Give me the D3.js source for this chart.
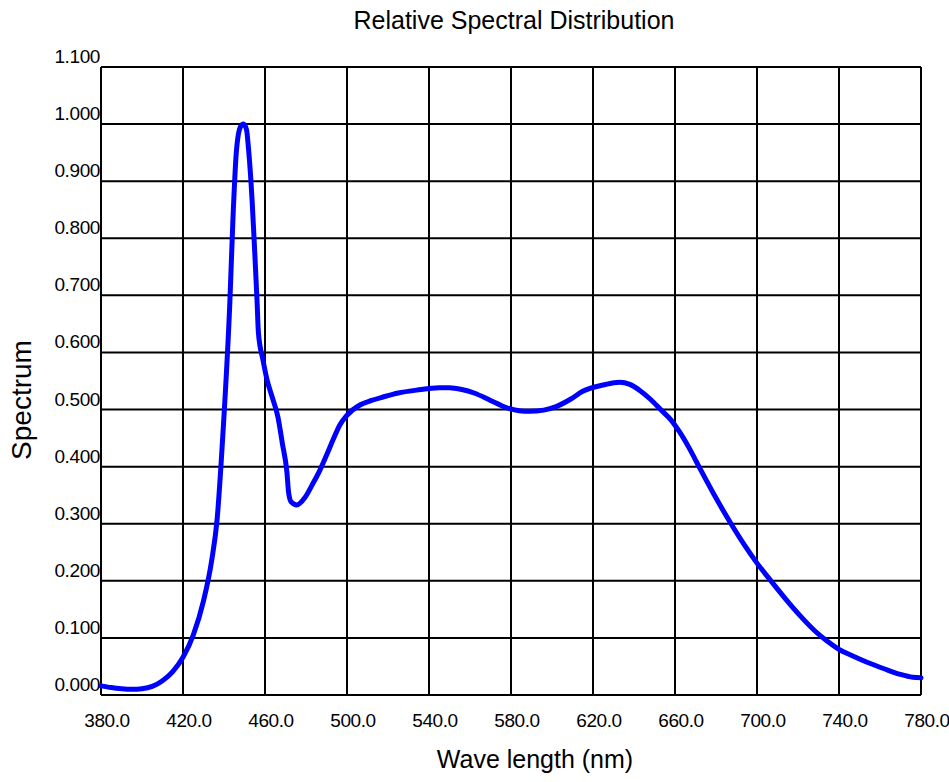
<!DOCTYPE html>
<html>
<head>
<meta charset="utf-8">
<script src="https://cdn.jsdelivr.net/npm/d3@7"></script>
<style>
	body { margin: 0; background: #fff; }
	text { font-family: "Liberation Sans", Arial, sans-serif; fill: #000; }
</style>
</head>
<body>
<div id="chart"></div>
<script>
(function(){

var width = 949,
	height = 782,
	margin = {left: 101, right: 28, top: 67, bottom: 87};

// wavelength (nm) and relative spectrum
var wavelength = [380, 385, 390, 395, 400, 405, 410, 415, 420, 425, 430, 434, 436.6, 439.5, 442.9, 444.4, 446, 448, 449.5, 451, 452, 453.7, 455, 456.1, 456.8, 459, 461, 463.5, 466.3, 468.5, 470.7, 471.5, 472.8, 475.5, 479.5, 483, 486.8, 490, 493.2, 496.5, 500, 506.3, 512, 517.6, 525, 534, 545, 550, 556, 562, 570, 578, 584, 589, 596, 602, 609, 615, 625, 633, 638, 643, 648, 653, 658, 662, 667, 672, 680, 688, 694, 700, 707, 714, 721, 728, 734, 740, 747, 754, 762, 770, 776, 780];
var spectrum = [0.016, 0.013, 0.011, 0.010, 0.011, 0.015, 0.025, 0.041, 0.066, 0.105, 0.165, 0.236, 0.306, 0.459, 0.692, 0.837, 0.950, 0.995, 1.000, 0.990, 0.955, 0.867, 0.775, 0.692, 0.634, 0.587, 0.552, 0.522, 0.487, 0.440, 0.390, 0.355, 0.338, 0.333, 0.346, 0.368, 0.394, 0.420, 0.447, 0.473, 0.490, 0.508, 0.516, 0.522, 0.529, 0.534, 0.538, 0.538, 0.535, 0.529, 0.516, 0.503, 0.498, 0.497, 0.499, 0.505, 0.518, 0.532, 0.543, 0.548, 0.544, 0.533, 0.518, 0.500, 0.482, 0.462, 0.432, 0.398, 0.345, 0.296, 0.262, 0.231, 0.199, 0.168, 0.139, 0.113, 0.095, 0.080, 0.068, 0.057, 0.046, 0.036, 0.031, 0.030];

var xticks = [380, 420, 460, 500, 540, 580, 620, 660, 700, 740, 780];
var yticks = [0, 0.1, 0.2, 0.3, 0.4, 0.5, 0.6, 0.7, 0.8, 0.9, 1.0, 1.1];

var title = "Relative Spectral Distribution",
	xlabel = "Wave length (nm)",
	ylabel = "Spectrum";

var X = d3.scaleLinear().domain([380, 780]).range([margin.left, width - margin.right]);
var Y = d3.scaleLinear().domain([0, 1.1]).range([height - margin.bottom, margin.top]);

var svg = d3.select("#chart").append("svg")
	.attr("width", width)
	.attr("height", height);

// grid
svg.selectAll(".vgrid").data(xticks).enter().append("line")
	.attr("class", "vgrid")
	.attr("x1", function(d){ return X(d); })
	.attr("x2", function(d){ return X(d); })
	.attr("y1", Y(1.1))
	.attr("y2", Y(0))
	.style("stroke", "#000")
	.style("stroke-width", 2);

svg.selectAll(".hgrid").data(yticks).enter().append("line")
	.attr("class", "hgrid")
	.attr("x1", X(380))
	.attr("x2", X(780))
	.attr("y1", function(d){ return Y(d); })
	.attr("y2", function(d){ return Y(d); })
	.style("stroke", "#000")
	.style("stroke-width", 2);

// tick labels
svg.selectAll(".ylab").data(yticks).enter().append("text")
	.attr("class", "ylab")
	.attr("x", X(380) - 1)
	.attr("y", function(d){ return Y(d) - 4; })
	.attr("text-anchor", "end")
	.style("font-size", "19px")
	.style("letter-spacing", "-0.4px")
	.text(function(d){ return d3.format(".3f")(d); });

svg.selectAll(".xlab").data(xticks).enter().append("text")
	.attr("class", "xlab")
	.attr("x", function(d){ return X(d) + 6; })
	.attr("y", Y(0) + 32)
	.attr("text-anchor", "middle")
	.style("font-size", "19px")
	.style("letter-spacing", "-0.4px")
	.text(function(d){ return d3.format(".1f")(d); });

// the curve
var line = d3.line()
	.x(function(d){ return X(d[0]); })
	.y(function(d){ return Y(d[1]); })
	.curve(d3.curveMonotoneX);

svg.append("path")
	.datum(d3.zip(wavelength, spectrum))
	.attr("d", line)
	.style("fill", "none")
	.style("stroke", "#0000ff")
	.style("stroke-width", 5)
	.style("stroke-linejoin", "round")
	.style("stroke-linecap", "round");

// titles
svg.append("text")
	.attr("x", 514)
	.attr("y", 29)
	.attr("text-anchor", "middle")
	.style("font-size", "25px")
	.text(title);

svg.append("text")
	.attr("x", 535)
	.attr("y", 768)
	.attr("text-anchor", "middle")
	.style("font-size", "25px")
	.text(xlabel);

svg.append("text")
	.attr("transform", "translate(31,400) rotate(-90)")
	.attr("text-anchor", "middle")
	.style("font-size", "28px")
	.text(ylabel);

})()
</script>
</body>
</html>
